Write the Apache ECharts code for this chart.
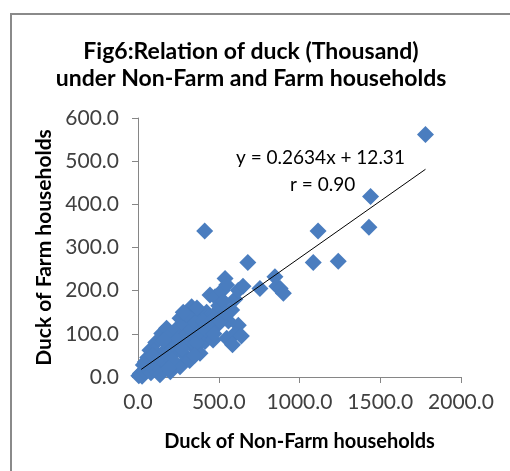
<!DOCTYPE html>
<html>
<head>
<meta charset="utf-8">
<script src="https://cdn.jsdelivr.net/npm/echarts@6/dist/echarts.min.js"></script>
<style>
  html, body { margin: 0; padding: 0; background: #fff; }
  #chart { width: 510px; height: 471px; }
</style>
</head>
<body>
<div id="chart"></div>
<script>
// 非农户 / 农户 鸭数量（千只）
var nonFarm = [5, 15, 25, 33, 40, 55, 60, 74, 80, 95, 110, 120, 136, 147, 150, 165, 177, 185, 200, 205,
  220, 230, 245, 260, 260, 275, 290, 300, 315, 320, 332, 340, 355, 370, 384, 390, 400, 413, 415, 425,
  435, 446, 440, 465, 477, 477, 490, 500, 520, 539, 549, 549, 560, 580, 600, 621, 621, 650, 680, 755,
  848, 860, 880, 900, 1085, 1115, 1240, 1430, 1440, 1780,
  100, 130, 170, 190, 210, 235, 250, 270, 285, 305, 330, 345, 360, 380, 405, 420, 455, 470, 510, 530,
  540, 45, 70, 90, 160, 190, 350, 365, 300, 280, 600, 640, 585];
var farm = [3, 8, 2, 28, 12, 20, 45, 62, 10, 35, 80, 25, 5, 101, 55, 35, 113, 75, 12, 50,
  95, 30, 70, 136, 24, 105, 50, 85, 125, 38, 163, 70, 100, 140, 55, 120, 85, 338, 82, 150,
  140, 190, 105, 86, 147, 186, 120, 165, 200, 228, 213, 90, 130, 155, 180, 201, 120, 210, 265, 205,
  232, 210, 205, 194, 265, 338, 268, 347, 418, 562,
  60, 45, 60, 95, 40, 110, 90, 65, 120, 100, 110, 130, 80, 105, 130, 110, 130, 100, 130, 175,
  150, 35, 30, 50, 85, 20, 50, 160, 145, 150, 100, 95, 75];
// 趋势线 y = 0.2634x + 12.31 两个端点
var trendX = [20, 1780];
var trendY = [17.6, 481.2];

var xTicks = [0, 500, 1000, 1500, 2000];
var yTicks = [0, 100, 200, 300, 400, 500, 600];

var points = nonFarm.map(function (x, i) { return [x, farm[i]]; });
var trend = trendX.map(function (x, i) { return [x, trendY[i]]; });

var font = 'Lato';
var chart = echarts.init(document.getElementById('chart'));
chart.setOption({
  animation: false,
  title: {
    text: 'Fig6:Relation of duck (Thousand)\nunder Non-Farm and Farm households',
    left: 246,
    textAlign: 'center',
    top: 33,
    textStyle: { fontFamily: font, fontSize: 23, fontWeight: 'bold', color: '#000', lineHeight: 27 }
  },
  graphic: [
    {
      type: 'rect',
      shape: { x: 11, y: 14, width: 600, height: 600 },
      style: { fill: 'none', stroke: '#8a8a8a', lineWidth: 2 },
      silent: true
    },
    {
      type: 'text',
      left: 236, top: 148,
      style: { text: 'y = 0.2634x + 12.31', font: '19px Lato', fill: '#000' }
    },
    {
      type: 'text',
      left: 290, top: 175,
      style: { text: 'r = 0.90', font: '19px Lato', fill: '#000' }
    }
  ],
  grid: { left: 138, right: 49, top: 118, bottom: 94 },
  xAxis: {
    type: 'value',
    min: xTicks[0], max: xTicks[xTicks.length - 1], interval: 500,
    name: 'Duck of Non-Farm households',
    nameLocation: 'middle',
    nameGap: 55,
    nameTextStyle: { fontFamily: font, fontSize: 20, fontWeight: 'bold', color: '#000' },
    axisLine: { show: true, lineStyle: { color: '#868686' } },
    axisTick: { show: true, inside: false, length: 6, lineStyle: { color: '#868686' } },
    splitLine: { show: false },
    axisLabel: {
      fontFamily: font, fontSize: 21, color: '#404040', margin: 15,
      formatter: function (v) { return v.toFixed(1); }
    }
  },
  yAxis: {
    type: 'value',
    min: yTicks[0], max: yTicks[yTicks.length - 1], interval: 100,
    name: 'Duck of Farm households',
    nameLocation: 'middle',
    nameRotate: 90,
    nameGap: 75,
    nameTextStyle: { fontFamily: font, fontSize: 21, fontWeight: 'bold', color: '#000' },
    axisLine: { show: true, lineStyle: { color: '#868686' } },
    axisTick: { show: true, inside: false, length: 6, lineStyle: { color: '#868686' } },
    splitLine: { show: false },
    axisLabel: {
      fontFamily: font, fontSize: 21, color: '#404040', margin: 19,
      formatter: function (v) { return v.toFixed(1); }
    }
  },
  series: [
    {
      type: 'scatter',
      data: points,
      symbol: 'diamond',
      symbolSize: 17,
      itemStyle: { color: '#4a7dbf', opacity: 1 }
    },
    {
      type: 'line',
      data: trend,
      symbol: 'none',
      lineStyle: { color: '#000', width: 1 },
      z: 3
    }
  ]
});
</script>
</body>
</html>
